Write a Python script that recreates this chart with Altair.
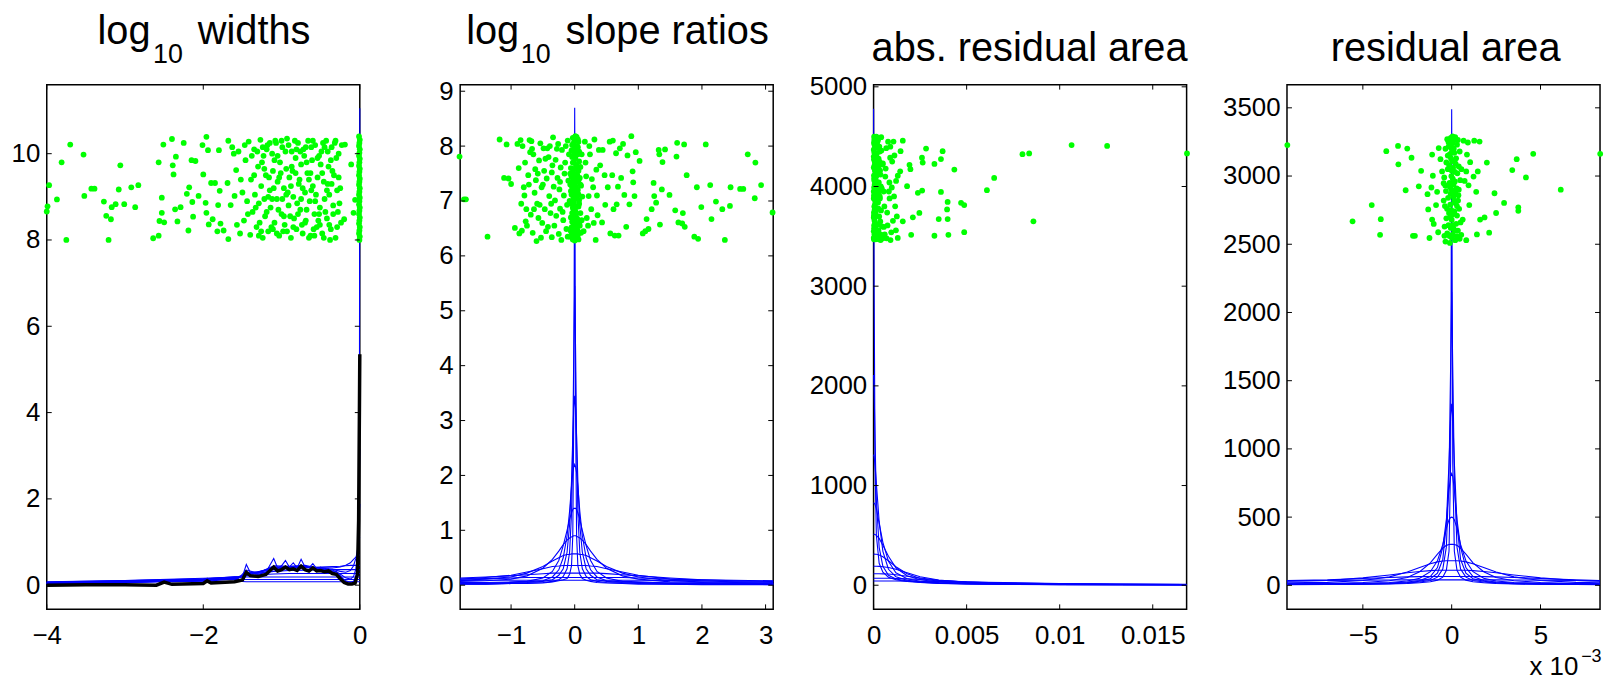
import altair as alt
import pandas as pd

FONT = "Liberation Sans"
W, H = 315, 528
TICK = 5
BLUE = "#0000ff"
GREEN = "#00ff00"

# ---------------- panel 1 : log10 widths ----------------
P1_XDOM = [-4, 0]
P1_YDOM = [-0.56, 11.6]
P1_XTICKS = [-4, -2, 0]
P1_YTICKS = [0, 2, 4, 6, 8, 10]
P1_FINE_X = [-4, -3.5, -3, -2.6, -2.5, -2.4, -2.0, -1.95, -1.9, -1.6,
             -1.5, -1.45, -1.4, -1.3, -1.2, -1.1, -1.05, -1.0, -0.95, -0.9,
             -0.85, -0.8, -0.75, -0.7, -0.65, -0.6, -0.55, -0.5, -0.45, -0.4,
             -0.35, -0.3, -0.25, -0.2, -0.15, -0.1, -0.06, -0.03, -0.015, -0.005, 0]
P1_NARROW_Y = [0.03, 0.05, 0.06, 0.08, 0.11, 0.08, 0.10, 0.16, 0.10, 0.15,
               0.20, 0.48, 0.30, 0.25, 0.30, 0.62, 0.40, 0.45, 0.57, 0.42,
               0.52, 0.40, 0.60, 0.42, 0.40, 0.50, 0.38, 0.42, 0.35, 0.38,
               0.30, 0.32, 0.22, 0.10, 0.05, 0.04, 0.05, 0.20, 1.0, 4.0, 11.05]
P1_BLACK_Y = [0.00, 0.01, 0.01, 0.00, 0.07, 0.02, 0.04, 0.10, 0.05, 0.08,
              0.12, 0.30, 0.22, 0.20, 0.25, 0.42, 0.33, 0.36, 0.42, 0.36,
              0.38, 0.34, 0.44, 0.36, 0.33, 0.40, 0.33, 0.34, 0.31, 0.33,
              0.27, 0.25, 0.15, 0.06, 0.03, 0.03, 0.05, 0.25, 1.5, 4.0, 5.35]
P1_GRID = [-4, -3, -2, -1.55, -1.45, -1.3, -1.1, -0.9, -0.7, -0.5,
           -0.35, -0.25, -0.18, -0.12, -0.08, -0.05, -0.03, -0.015, -0.005, 0]
P1_CURVES = [
    [0.04, 0.07, 0.11, 0.16, 0.35, 0.28, 0.45, 0.44, 0.46, 0.38, 0.33, 0.20, 0.10, 0.07, 0.09, 0.20, 0.50, 1.30, 2.60, 3.15],
    [0.04, 0.07, 0.11, 0.17, 0.30, 0.30, 0.42, 0.43, 0.44, 0.39, 0.35, 0.26, 0.17, 0.14, 0.20, 0.38, 0.70, 1.25, 1.70, 1.88],
    [0.04, 0.07, 0.12, 0.17, 0.27, 0.31, 0.40, 0.42, 0.42, 0.40, 0.37, 0.32, 0.30, 0.34, 0.45, 0.62, 0.82, 1.00, 1.10, 1.12],
    [0.05, 0.08, 0.12, 0.18, 0.25, 0.31, 0.38, 0.41, 0.41, 0.41, 0.40, 0.42, 0.46, 0.52, 0.60, 0.65, 0.68, 0.70, 0.70, 0.70],
    [0.05, 0.08, 0.13, 0.19, 0.24, 0.30, 0.36, 0.39, 0.41, 0.42, 0.43, 0.44, 0.45, 0.46, 0.46, 0.46, 0.46, 0.46, 0.46, 0.46],
    [0.05, 0.09, 0.14, 0.20, 0.23, 0.28, 0.32, 0.34, 0.35, 0.36, 0.36, 0.36, 0.36, 0.36, 0.36, 0.36, 0.36, 0.36, 0.36, 0.36],
    [0.06, 0.10, 0.15, 0.20, 0.22, 0.24, 0.26, 0.27, 0.27, 0.27, 0.27, 0.27, 0.27, 0.27, 0.27, 0.27, 0.27, 0.27, 0.27, 0.27],
    [0.07, 0.11, 0.16, 0.18, 0.19, 0.19, 0.19, 0.19, 0.19, 0.19, 0.19, 0.19, 0.19, 0.19, 0.19, 0.19, 0.19, 0.19, 0.19, 0.19],
    [0.08, 0.11, 0.13, 0.13, 0.13, 0.13, 0.13, 0.13, 0.13, 0.13, 0.13, 0.13, 0.13, 0.13, 0.13, 0.13, 0.13, 0.13, 0.13, 0.13],
    [0.05, 0.07, 0.09, 0.09, 0.08, 0.08, 0.08, 0.08, 0.08, 0.08, 0.08, 0.08, 0.08, 0.08, 0.08, 0.08, 0.08, 0.08, 0.08, 0.08],
]
P1_POINTS = [
    (-4.00, 8.66), (-3.99, 8.78), (-3.97, 9.27), (-3.87, 8.94), (-3.81, 9.80), (-3.75, 8.00), (-3.70, 10.21),
    (-3.53, 9.98), (-3.52, 9.02), (-3.43, 9.19), (-3.39, 9.19), (-3.27, 8.89), (-3.24, 8.56), (-3.21, 8.00),
    (-3.18, 8.48), (-3.17, 8.76), (-3.12, 8.83), (-3.08, 9.17), (-3.06, 9.73), (-3.01, 8.83), (-2.92, 9.22),
    (-2.87, 8.76), (-2.83, 9.27),
    (-2.64, 8.04), (-2.57, 9.80), (-2.57, 8.10), (-2.56, 8.44), (-2.53, 8.98), (-2.53, 8.63), (-2.51, 10.21),
    (-2.50, 8.41), (-2.40, 10.34), (-2.39, 9.73), (-2.38, 9.52), (-2.36, 8.71), (-2.35, 9.93), (-2.33, 8.43),
    (-2.29, 8.76), (-2.25, 10.25), (-2.21, 9.07), (-2.19, 8.22), (-2.18, 9.22), (-2.15, 9.85), (-2.14, 8.88),
    (-2.13, 8.54), (-2.10, 9.83), (-2.06, 9.02), (-2.01, 10.20), (-2.00, 9.52), (-1.97, 8.86), (-1.96, 10.39),
    (-1.96, 8.63), (-1.94, 10.08), (-1.93, 8.36), (-1.90, 9.32), (-1.88, 8.48), (-1.85, 9.32), (-1.82, 8.20),
    (-1.81, 8.81), (-1.80, 10.08), (-1.79, 9.14), (-1.78, 8.38), (-1.74, 8.22), (-1.69, 9.32), (-1.68, 10.30),
    (-1.68, 8.02), (-1.65, 8.81), (-1.63, 10.15), (-1.61, 10.00), (-1.60, 9.02),
    (-1.58, 9.62), (-1.55, 10.05), (-1.53, 8.15), (-1.50, 9.10), (-1.48, 8.45), (-1.46, 9.85), (-1.44, 8.90),
    (-1.42, 10.28), (-1.40, 8.12), (-1.39, 9.40), (-1.37, 8.65), (-1.35, 10.10), (-1.34, 9.05), (-1.32, 8.30),
    (-1.30, 9.70), (-1.29, 8.85), (-1.27, 10.32), (-1.26, 9.25), (-1.24, 8.05), (-1.23, 9.95), (-1.21, 8.55),
    (-1.20, 9.50), (-1.18, 10.20), (-1.17, 8.20), (-1.15, 9.15), (-1.14, 8.75), (-1.12, 10.00), (-1.11, 9.60),
    (-1.09, 8.40), (-1.08, 10.30), (-1.06, 8.95), (-1.05, 9.35), (-1.03, 8.10), (-1.02, 9.80), (-1.00, 8.60),
    (-0.99, 10.15), (-0.97, 9.20), (-0.96, 8.35), (-0.94, 9.65), (-0.93, 10.35), (-0.91, 8.80), (-0.90, 9.45),
    (-0.88, 8.05), (-0.87, 10.05), (-0.85, 9.00), (-0.84, 8.50), (-0.82, 9.90), (-0.81, 8.25), (-0.79, 10.25),
    (-0.78, 9.30), (-0.76, 8.70), (-0.75, 9.75), (-0.73, 8.15), (-0.72, 10.10), (-0.70, 9.10), (-0.69, 8.45),
    (-0.67, 9.55), (-0.66, 10.30), (-0.64, 8.90), (-0.63, 8.10), (-0.61, 9.85), (-0.60, 9.25), (-0.58, 8.60),
    (-0.57, 10.20), (-0.55, 8.30), (-0.54, 9.45), (-0.52, 9.95), (-0.51, 8.75), (-0.49, 10.05), (-0.48, 8.15),
    (-0.46, 9.35), (-0.45, 8.95), (-0.43, 10.30), (-0.42, 8.50), (-0.40, 9.70), (-0.39, 9.05), (-0.37, 8.25),
    (-0.36, 10.15), (-0.34, 8.80), (-0.33, 9.50), (-0.31, 8.05), (-0.30, 9.90), (-0.28, 8.65), (-0.27, 10.00),
    (-0.25, 9.20), (-0.24, 8.40),
    (-1.28, 8.40), (-1.25, 9.80), (-1.22, 8.95), (-1.19, 10.10), (-1.16, 9.45), (-1.13, 8.30), (-1.10, 9.20),
    (-1.07, 10.25), (-1.04, 8.70), (-1.01, 9.55), (-0.98, 8.20), (-0.95, 10.05), (-0.92, 9.10), (-0.89, 8.55),
    (-0.86, 9.60), (-0.83, 10.30), (-0.80, 8.85), (-0.77, 9.40), (-0.74, 8.35), (-0.71, 9.95), (-0.68, 8.70),
    (-0.65, 9.40), (-0.62, 10.15), (-0.59, 8.25), (-0.56, 9.05), (-0.53, 8.45), (-0.50, 9.75), (-0.47, 10.25),
    (-0.44, 8.65), (-0.41, 9.30), (-0.38, 8.00), (-0.35, 9.60), (-0.32, 10.25), (-0.29, 9.15), (-0.26, 8.85),
    (-0.23, 10.20),
    (-1.57, 8.35), (-1.52, 9.40), (-1.47, 10.20), (-1.43, 8.60), (-1.38, 9.95), (-1.33, 8.75), (-1.31, 10.05),
    (-1.26, 8.20), (-1.22, 9.65), (-1.19, 8.65), (-1.15, 10.25), (-1.12, 8.95), (-1.09, 9.85), (-1.06, 8.15),
    (-1.03, 9.45), (-1.00, 10.30), (-0.97, 8.55), (-0.94, 9.05), (-0.91, 10.20), (-0.88, 9.25), (-0.85, 8.30),
    (-0.82, 9.55), (-0.79, 8.60), (-0.76, 10.05), (-0.73, 9.20), (-0.70, 8.40), (-0.68, 9.80), (-0.65, 8.05),
    (-0.62, 9.15), (-0.60, 10.30), (-0.57, 8.90), (-0.54, 9.90), (-0.51, 8.35), (-0.48, 9.55), (-0.45, 10.15),
    (-0.42, 9.15), (-0.39, 8.35), (-0.37, 9.85), (-0.34, 8.60), (-0.31, 10.30), (-0.29, 8.30), (-0.27, 9.45),
    (-1.35, 9.50), (-1.29, 8.10), (-1.24, 10.15), (-1.17, 9.00), (-1.11, 8.25), (-1.05, 9.95), (-0.99, 8.95),
    (-0.93, 8.20), (-0.87, 9.70), (-0.81, 10.10), (-0.75, 8.95), (-0.69, 10.15), (-0.63, 9.55), (-0.58, 8.10),
    (-0.52, 8.60), (-0.46, 8.05), (-0.41, 10.05), (-0.36, 9.30),
    (-0.19, 10.21), (-0.11, 9.75), (-0.08, 8.63), (-0.06, 8.93), (-0.20, 8.48),
    (-0.005, 8.00), (0.0, 8.08), (-0.01, 8.15), (-0.005, 8.22), (0.0, 8.30), (-0.01, 8.38), (-0.005, 8.45),
    (0.0, 8.52), (-0.01, 8.60), (-0.005, 8.68), (0.0, 8.75), (-0.01, 8.82), (-0.005, 8.90), (0.0, 8.98),
    (-0.01, 9.05), (-0.005, 9.12), (0.0, 9.20), (-0.01, 9.28), (-0.005, 9.35), (0.0, 9.42), (-0.01, 9.50),
    (-0.005, 9.58), (0.0, 9.65), (-0.01, 9.72), (-0.005, 9.80), (0.0, 9.88), (-0.01, 9.95), (-0.005, 10.02),
    (0.0, 10.10), (-0.01, 10.18), (-0.005, 10.25), (0.0, 10.32), (-0.01, 10.40),
]

# ---------------- panel 2 : log10 slope ratios ----------------
P2_XDOM = [-1.8, 3.12]
P2_YDOM = [-0.44, 9.12]
P2_XTICKS = [-1, 0, 1, 2, 3]
P2_YTICKS = [0, 1, 2, 3, 4, 5, 6, 7, 8, 9]
P2_GRID = [-1.8, -1.4, -1.0, -0.75, -0.5, -0.35, -0.25, -0.18, -0.12, -0.08, -0.05, -0.03, -0.015,
           0,
           0.015, 0.03, 0.05, 0.08, 0.12, 0.18, 0.25, 0.35, 0.5, 0.75, 1.0, 1.5, 2.0, 2.5, 3.12]
P2_CURVES = [
    [0.02, 0.02, 0.03, 0.03, 0.04, 0.06, 0.08, 0.10, 0.12, 0.20, 0.35, 0.90, 3.00, 8.70,
     3.00, 0.90, 0.35, 0.20, 0.12, 0.09, 0.07, 0.05, 0.04, 0.03, 0.02, 0.02, 0.01, 0.01, 0.01],
    [0.02, 0.02, 0.03, 0.04, 0.05, 0.07, 0.10, 0.16, 0.30, 0.60, 1.30, 2.60, 4.20, 5.45,
     4.20, 2.60, 1.30, 0.60, 0.30, 0.16, 0.10, 0.07, 0.05, 0.04, 0.03, 0.02, 0.02, 0.02, 0.01],
    [0.03, 0.03, 0.04, 0.05, 0.07, 0.10, 0.18, 0.30, 0.60, 1.10, 1.90, 2.70, 3.20, 3.45,
     3.20, 2.70, 1.90, 1.10, 0.60, 0.30, 0.18, 0.10, 0.07, 0.05, 0.04, 0.03, 0.02, 0.02, 0.02],
    [0.04, 0.04, 0.05, 0.06, 0.08, 0.15, 0.28, 0.50, 0.90, 1.35, 1.80, 2.05, 2.15, 2.20,
     2.15, 2.05, 1.80, 1.35, 0.90, 0.50, 0.28, 0.15, 0.08, 0.06, 0.05, 0.04, 0.03, 0.02, 0.02],
    [0.05, 0.05, 0.06, 0.07, 0.13, 0.25, 0.45, 0.72, 1.00, 1.20, 1.32, 1.38, 1.40, 1.40,
     1.40, 1.38, 1.32, 1.20, 1.00, 0.72, 0.45, 0.25, 0.13, 0.07, 0.06, 0.04, 0.03, 0.03, 0.03],
    [0.07, 0.08, 0.11, 0.17, 0.31, 0.47, 0.62, 0.74, 0.82, 0.86, 0.88, 0.89, 0.90, 0.90,
     0.90, 0.89, 0.88, 0.86, 0.82, 0.74, 0.62, 0.47, 0.31, 0.17, 0.11, 0.06, 0.05, 0.04, 0.03],
    [0.09, 0.11, 0.15, 0.22, 0.34, 0.44, 0.50, 0.54, 0.56, 0.56, 0.57, 0.57, 0.57, 0.57,
     0.57, 0.57, 0.57, 0.56, 0.56, 0.54, 0.50, 0.44, 0.34, 0.22, 0.15, 0.08, 0.06, 0.05, 0.04],
    [0.11, 0.14, 0.18, 0.24, 0.30, 0.34, 0.35, 0.36, 0.36, 0.36, 0.36, 0.36, 0.36, 0.36,
     0.36, 0.36, 0.36, 0.36, 0.36, 0.36, 0.35, 0.34, 0.30, 0.24, 0.18, 0.11, 0.08, 0.06, 0.05],
    [0.13, 0.15, 0.17, 0.19, 0.21, 0.22, 0.22, 0.22, 0.22, 0.22, 0.22, 0.22, 0.22, 0.22,
     0.22, 0.22, 0.22, 0.22, 0.22, 0.22, 0.22, 0.22, 0.21, 0.19, 0.17, 0.13, 0.10, 0.08, 0.07],
    [0.11, 0.12, 0.13, 0.14, 0.14, 0.14, 0.14, 0.14, 0.14, 0.14, 0.14, 0.14, 0.14, 0.14,
     0.14, 0.14, 0.14, 0.14, 0.14, 0.14, 0.14, 0.14, 0.14, 0.14, 0.13, 0.11, 0.10, 0.09, 0.08],
    [0.085, 0.09, 0.09, 0.09, 0.09, 0.09, 0.09, 0.09, 0.09, 0.09, 0.09, 0.09, 0.09, 0.09,
     0.09, 0.09, 0.09, 0.09, 0.09, 0.09, 0.09, 0.09, 0.09, 0.09, 0.09, 0.085, 0.08, 0.075, 0.07],
]
P2_POINTS = [
    (-1.81, 7.81), (-1.74, 7.03), (-1.71, 7.03), (-1.37, 6.35), (-1.18, 8.12), (-1.11, 7.42), (-1.07, 8.03),
    (-1.04, 7.41), (-1.00, 7.31), (-0.94, 6.51), (-0.90, 8.04), (-0.87, 6.41), (-0.85, 8.11), (-0.83, 6.46),
    (-0.82, 8.00), (-0.80, 7.25), (-0.78, 7.70), (-0.77, 6.63), (-0.76, 6.85), (-0.73, 7.47), (-0.71, 8.11),
    (-0.70, 7.89), (-0.68, 8.09), (-0.66, 6.42), (-0.65, 7.85), (-0.64, 6.85), (-0.62, 7.58), (-0.61, 7.38),
    (-0.60, 6.27), (-0.57, 6.69), (-0.56, 7.74), (-0.55, 6.93), (-0.53, 6.33), (-0.52, 7.25), (-0.49, 7.96),
    (-0.48, 7.55), (-0.47, 6.85), (-0.46, 7.77), (-0.44, 7.41), (-0.43, 7.96), (-0.42, 6.53), (-0.40, 7.09),
    (-0.39, 8.00), (-0.38, 6.78), (-0.36, 7.52), (-0.36, 6.34), (-0.34, 8.16), (-0.33, 7.26), (-0.31, 7.01),
    (-0.30, 7.75), (-0.29, 6.73), (-0.27, 7.42), (-0.26, 8.04), (-0.24, 7.21), (-0.23, 6.86), (-0.22, 7.61),
    (-0.21, 6.29), (-0.20, 7.93), (-0.18, 6.65), (-0.17, 7.10), (-0.16, 7.50), (-0.14, 8.00), (-0.13, 6.49),
    (-0.12, 6.93), (-0.10, 7.37), (-0.09, 7.85),
    (-0.88, 7.60), (-0.84, 6.95), (-0.79, 7.10), (-0.75, 6.55), (-0.72, 7.30), (-0.69, 6.75), (-0.67, 7.95),
    (-0.63, 7.15), (-0.59, 6.95), (-0.58, 7.50), (-0.54, 8.05), (-0.51, 6.60), (-0.50, 7.30), (-0.45, 6.45),
    (-0.41, 7.80), (-0.37, 6.95), (-0.35, 7.65), (-0.32, 6.55), (-0.28, 7.95), (-0.25, 6.40), (-0.23, 7.35),
    (-0.19, 6.80), (-0.15, 7.70), (-0.11, 6.35), (-0.11, 8.10), (0.14, 6.45), (0.17, 7.70), (0.21, 6.55),
    (0.23, 8.00), (0.27, 7.40), (0.30, 6.60), (0.35, 7.10),
    (-0.07, 6.35), (-0.05, 6.52), (-0.03, 6.30), (-0.01, 6.45), (0.01, 6.33), (0.03, 6.48), (0.05, 6.38),
    (0.08, 6.55), (0.10, 6.42), (-0.06, 6.70), (-0.04, 6.62), (-0.02, 6.85), (0.00, 6.60), (0.02, 6.75),
    (0.04, 6.68), (0.06, 6.90), (0.09, 6.78), (0.11, 6.65), (-0.08, 7.00), (-0.05, 6.95), (-0.03, 7.10),
    (-0.01, 6.98), (0.01, 7.15), (0.03, 7.05), (0.05, 7.20), (0.07, 7.02), (0.12, 7.08), (-0.07, 7.30),
    (-0.04, 7.25), (-0.02, 7.40), (0.00, 7.32), (0.02, 7.48), (0.04, 7.35), (0.06, 7.55), (0.08, 7.42),
    (0.10, 7.28), (-0.06, 7.60), (-0.03, 7.70), (-0.01, 7.58), (0.01, 7.78), (0.03, 7.65), (0.05, 7.85),
    (0.07, 7.72), (0.09, 7.62), (-0.05, 7.92), (-0.02, 8.05), (0.00, 7.95), (0.02, 8.12), (0.04, 8.00),
    (0.06, 8.08), (-0.03, 8.15), (0.01, 8.18), (0.03, 8.17), (-0.04, 6.40), (0.00, 6.28), (0.06, 6.30),
    (-0.02, 6.55), (0.02, 6.90), (-0.06, 7.18), (0.04, 7.60), (-0.01, 7.85), (0.05, 6.45), (-0.03, 6.88),
    (0.01, 6.50), (0.07, 6.95), (-0.05, 7.45), (0.03, 7.95), (-0.02, 7.12), (0.09, 7.30), (0.00, 6.75),
    (0.02, 7.25), (-0.04, 7.80), (0.06, 7.38), (0.08, 6.62), (-0.01, 7.22), (0.11, 7.85), (0.04, 6.35),
    (-0.07, 7.50), (0.01, 7.42), (0.05, 8.12), (-0.02, 6.38), (0.03, 7.35), (0.00, 8.10), (0.07, 7.90),
    (-0.03, 7.52), (0.02, 6.58),
    (-0.06, 6.45), (0.00, 6.40), (0.04, 6.52), (-0.04, 6.78), (0.01, 6.82), (0.05, 6.62), (-0.02, 7.02),
    (0.03, 7.20), (-0.05, 7.12), (0.00, 7.45), (0.04, 7.48), (-0.03, 7.35), (0.02, 7.62), (-0.01, 7.70),
    (0.05, 7.98), (-0.04, 8.02), (0.01, 7.90), (0.03, 6.40), (-0.01, 6.68), (0.06, 7.12),
    (0.16, 8.08), (0.18, 7.45), (0.19, 6.69), (0.22, 7.09), (0.24, 7.85), (0.26, 6.85), (0.29, 7.25),
    (0.31, 8.12), (0.33, 6.29), (0.34, 7.57), (0.36, 6.74), (0.38, 7.93), (0.40, 7.65), (0.43, 6.61),
    (0.44, 7.93), (0.47, 7.47), (0.48, 6.93), (0.52, 7.25), (0.55, 8.08), (0.56, 6.41), (0.59, 7.47),
    (0.60, 8.10), (0.61, 6.85), (0.63, 6.37), (0.65, 7.87), (0.66, 6.94), (0.68, 7.26), (0.69, 6.37),
    (0.71, 7.96), (0.73, 7.42), (0.76, 8.04), (0.78, 7.11), (0.81, 6.53), (0.83, 7.83), (0.86, 6.94),
    (0.89, 8.18), (0.91, 7.54), (0.92, 7.34), (0.94, 7.09), (0.96, 7.89), (1.02, 7.73), (1.07, 6.41),
    (1.11, 6.45), (1.13, 6.67), (1.16, 6.49), (1.21, 6.85), (1.24, 7.33), (1.25, 7.09), (1.28, 6.97),
    (1.32, 7.93), (1.33, 7.85), (1.34, 6.57), (1.37, 7.21), (1.38, 7.71), (1.42, 7.94), (1.49, 7.11),
    (1.58, 6.83), (1.60, 7.81), (1.61, 8.06), (1.63, 6.61), (1.69, 6.59), (1.70, 6.78), (1.72, 8.03),
    (1.73, 6.53), (1.76, 7.47), (1.88, 6.35), (1.92, 7.25), (1.94, 6.31), (1.99, 6.89), (2.06, 8.03),
    (2.13, 7.29), (2.15, 6.67), (2.22, 6.99), (2.32, 6.85), (2.36, 6.29), (2.45, 7.25), (2.44, 6.91),
    (2.60, 7.22), (2.65, 7.22), (2.72, 7.85), (2.83, 7.05), (2.84, 7.70), (2.93, 7.29), (3.11, 6.79),
]

# ---------------- panel 3 : abs. residual area ----------------
P3_XDOM = [0, 0.01682]
P3_YDOM = [-242, 5022]
P3_XTICKS = [0, 0.005, 0.01, 0.015]
P3_YTICKS = [0, 1000, 2000, 3000, 4000, 5000]
P3_GRID = [0, 0.00003, 0.00008, 0.00015, 0.0003, 0.0005, 0.0008, 0.0012,
           0.0018, 0.0025, 0.0035, 0.005, 0.007, 0.01, 0.013, 0.0168]
P3_CURVES = [
    [4780, 3000, 1200, 500, 220, 130, 80, 55, 38, 27, 19, 13, 9, 6, 4, 3],
    [2110, 1950, 1450, 850, 380, 190, 100, 62, 42, 30, 21, 14, 10, 6, 5, 4],
    [1310, 1290, 1200, 1020, 640, 340, 160, 85, 50, 34, 23, 15, 11, 7, 5, 4],
    [826, 824, 810, 770, 620, 430, 240, 125, 65, 40, 26, 17, 12, 8, 6, 5],
    [510, 510, 508, 500, 470, 400, 290, 175, 95, 55, 32, 19, 13, 9, 7, 5],
    [312, 312, 311, 310, 303, 285, 245, 185, 115, 68, 40, 23, 15, 10, 7, 5],
    [190, 190, 190, 190, 189, 186, 178, 160, 125, 85, 52, 29, 18, 11, 8, 6],
    [115, 115, 115, 115, 115, 114, 112, 105, 90, 72, 50, 31, 19, 12, 9, 7],
    [70, 70, 70, 70, 70, 70, 70, 68, 64, 58, 48, 35, 23, 15, 11, 8],
    [42, 42, 42, 42, 42, 42, 42, 42, 41, 40, 38, 33, 26, 18, 13, 10],
]
P3_POINTS = [
    (0.00002, 3470), (0.00005, 3520), (0.00003, 3580), (0.00008, 3630), (0.00001, 3690), (0.00012, 3750),
    (0.00004, 3800), (0.00009, 3860), (0.00002, 3910), (0.00015, 3970), (0.00006, 4020), (0.00003, 4080),
    (0.00011, 4130), (0.00001, 4190), (0.00007, 4240), (0.00018, 4290), (0.00004, 4340), (0.00010, 4390),
    (0.00002, 4440), (0.00013, 4490), (0.00022, 3490), (0.00026, 3560), (0.00019, 3620), (0.00030, 3700),
    (0.00016, 3780), (0.00024, 3840), (0.00033, 3900), (0.00020, 3960), (0.00028, 4040), (0.00014, 4100),
    (0.00035, 4160), (0.00021, 4220), (0.00027, 4280), (0.00017, 4330), (0.00031, 4400), (0.00023, 4460),
    (0.00038, 3520), (0.00036, 3650), (0.00040, 3760), (0.00034, 3880), (0.00039, 4000), (0.00037, 4120),
    (0.00032, 4250), (0.00042, 4360), (0.00006, 3500), (0.00001, 3550), (0.00005, 3660), (0.00002, 3740),
    (0.00008, 3820), (0.00001, 3950), (0.00004, 4060), (0.00007, 4160), (0.00001, 4300), (0.00005, 4420),
    (0.00003, 4500), (0.00014, 3540), (0.00010, 3600), (0.00013, 3710), (0.00009, 3930), (0.00016, 4050),
    (0.00012, 4270), (0.00008, 4470), (0.00025, 4480), (0.00029, 3470), (0.00045, 3600), (0.00048, 4220),
    (0.00044, 3980), (0.00050, 3480),
    (0.00001, 3485), (0.00003, 3610), (0.00002, 3710), (0.00006, 3770), (0.00001, 3880), (0.00003, 3990),
    (0.00002, 4110), (0.00005, 4210), (0.00002, 4270), (0.00001, 4370), (0.00004, 4470), (0.00011, 3470),
    (0.00018, 3560), (0.00007, 3700), (0.00020, 3890), (0.00011, 4010), (0.00024, 4140), (0.00009, 4320),
    (0.00019, 4430), (0.00015, 4500), (0.00028, 3620), (0.00025, 3780), (0.00030, 3950), (0.00026, 4190),
    (0.00033, 4350), (0.00012, 3530), (0.00006, 3900), (0.00017, 4180), (0.00022, 4390), (0.00035, 3480),
    (0.00060, 3520), (0.00075, 3610), (0.00058, 3800), (0.00082, 3950), (0.00065, 4180), (0.00090, 4400),
    (0.00078, 4450), (0.00054, 3950), (0.00095, 3540), (0.00070, 3480), (0.00110, 3900), (0.00085, 4040),
    (0.00100, 4250), (0.00120, 3560), (0.00125, 3700),
    (0.00107, 4451), (0.00157, 4460), (0.00145, 4354), (0.00112, 4311), (0.00089, 4289), (0.00260, 4289),
    (0.00282, 4381), (0.00264, 4240), (0.00371, 4354), (0.00362, 4275), (0.00327, 4227), (0.00193, 4218),
    (0.00198, 4174), (0.00143, 4152), (0.00130, 4108), (0.00434, 4170), (0.00180, 4003), (0.00261, 3959),
    (0.00238, 3937), (0.00362, 3946), (0.00648, 4086), (0.00609, 3963), (0.00398, 3845), (0.00395, 3770),
    (0.00470, 3836), (0.00487, 3814), (0.00246, 3735), (0.00211, 3691), (0.00157, 3651), (0.00104, 3656),
    (0.00350, 3673), (0.00398, 3673), (0.00327, 3506), (0.00402, 3515), (0.00487, 3542), (0.00202, 3515),
    (0.00130, 3484), (0.00091, 3463), (0.00800, 4324), (0.00836, 4332), (0.01064, 4416), (0.01255, 4407),
    (0.00859, 3651), (0.01684, 4332), (0.00038, 3463), (0.00055, 3594), (0.00073, 3739), (0.00086, 3880),
    (0.00098, 3990), (0.00116, 3801), (0.00121, 4056), (0.00063, 4100), (0.00050, 4231), (0.00068, 4385),
    (0.00041, 4495),
]

# ---------------- panel 4 : residual area (x in units of 1e-3) ----------------
P4_XDOM = [-9.27, 8.35]
P4_YDOM = [-176, 3670]
P4_XTICKS = [-5, 0, 5]
P4_YTICKS = [0, 500, 1000, 1500, 2000, 2500, 3000, 3500]
P4_GRID = [-9.27, -7, -5, -3.5, -2.5, -1.8, -1.2, -0.8, -0.5, -0.3, -0.15, -0.06,
           0,
           0.06, 0.15, 0.3, 0.5, 0.8, 1.2, 1.8, 2.5, 3.5, 5, 7, 8.35]
P4_CURVES = [
    [5, 6, 8, 10, 14, 19, 26, 38, 60, 110, 250, 900, 3490, 900, 250, 110, 60, 38, 26, 19, 14, 10, 8, 6, 5],
    [6, 7, 9, 12, 17, 24, 36, 60, 120, 280, 800, 1600, 2150, 1600, 800, 280, 120, 60, 36, 24, 17, 12, 9, 7, 6],
    [7, 8, 11, 14, 20, 30, 48, 90, 190, 450, 900, 1230, 1330, 1230, 900, 450, 190, 90, 48, 30, 20, 14, 11, 8, 7],
    [8, 9, 12, 17, 24, 36, 65, 130, 280, 480, 700, 800, 820, 800, 700, 480, 280, 130, 65, 36, 24, 17, 12, 9, 8],
    [9, 11, 15, 21, 32, 52, 100, 180, 300, 420, 480, 497, 500, 497, 480, 420, 300, 180, 100, 52, 32, 21, 15, 11, 9],
    [12, 14, 21, 34, 58, 100, 165, 228, 272, 293, 299, 300, 300, 300, 299, 293, 272, 228, 165, 100, 58, 34, 21, 14, 12],
    [18, 22, 36, 62, 98, 130, 158, 172, 178, 180, 180, 180, 180, 180, 180, 180, 178, 172, 158, 130, 98, 62, 36, 22, 18],
    [30, 36, 55, 76, 92, 102, 108, 110, 110, 110, 110, 110, 110, 110, 110, 110, 110, 110, 108, 102, 92, 76, 55, 36, 30],
    [36, 40, 50, 58, 62, 64, 65, 65, 65, 65, 65, 65, 65, 65, 65, 65, 65, 65, 65, 64, 62, 58, 50, 40, 36],
    [33, 35, 38, 39, 40, 40, 40, 40, 40, 40, 40, 40, 40, 40, 40, 40, 40, 40, 40, 40, 40, 39, 38, 35, 33],
]
P4_POINTS = [
    (-9.25, 3227), (8.36, 3163), (-5.58, 2668), (-4.50, 2787), (-3.99, 2684), (-4.03, 2569), (-3.68, 3182),
    (-3.02, 3221), (-3.00, 3086), (-2.50, 3201), (-2.26, 3134), (-2.59, 2896), (-2.18, 2562), (-2.07, 2562),
    (-1.72, 3038), (-1.85, 2925), (-1.36, 2867), (-1.32, 2755), (-1.25, 2546), (-1.10, 3157), (-1.06, 3002),
    (-1.14, 2916), (-1.10, 2681), (-1.01, 2649), (-0.88, 2787), (-0.82, 2884), (-0.76, 2588), (-0.73, 3205),
    (-0.63, 3124), (-0.54, 3034), (-0.45, 2948), (-0.41, 2562),
    (0.67, 3259), (0.91, 3246), (1.27, 3259), (1.57, 3253), (0.86, 3157), (1.04, 3102), (0.82, 3034),
    (0.73, 2964), (0.95, 2932), (1.23, 2996), (1.47, 3034), (1.38, 2884), (0.99, 2787), (0.62, 2681),
    (0.54, 2569), (0.82, 2530), (1.42, 2572), (1.60, 2681), (1.85, 2697), (2.11, 2585), (2.41, 2874),
    (2.50, 2729), (1.98, 3099), (2.95, 2803), (3.41, 3044), (3.66, 3124), (3.75, 2771), (3.75, 2745),
    (4.18, 2990), (4.59, 3163), (6.14, 2900),
    (-0.35, 2520), (-0.10, 2510), (0.20, 2530), (0.45, 2540), (-0.25, 2580), (0.05, 2570), (0.35, 2600),
    (-0.40, 2630), (-0.05, 2620), (0.25, 2650), (0.50, 2660), (-0.30, 2690), (0.00, 2680), (0.30, 2710),
    (-0.15, 2730), (0.15, 2740), (0.42, 2760), (-0.38, 2780), (-0.08, 2790), (0.22, 2800), (-0.20, 2840),
    (0.10, 2850), (0.38, 2860), (-0.32, 2890), (0.00, 2900), (0.28, 2910), (-0.12, 2950), (0.18, 2960),
    (0.48, 2970), (-0.42, 2990), (-0.02, 3000), (0.32, 3020), (-0.22, 3050), (0.08, 3060), (0.40, 3070),
    (-0.30, 3100), (0.02, 3110), (0.25, 3130), (-0.10, 3160), (0.15, 3170), (0.45, 3180), (-0.35, 3200),
    (-0.05, 3210), (0.30, 3230), (-0.18, 3250), (0.10, 3260), (-0.05, 3280), (0.20, 3285), (0.05, 3290),
    (-0.25, 3270), (0.35, 3265), (0.00, 2550), (0.12, 2610), (-0.18, 2640), (0.28, 2560), (0.06, 2720),
    (-0.26, 2760), (0.36, 2820), (-0.06, 2870), (0.20, 2880), (-0.36, 2930), (0.10, 2940), (0.00, 3040),
    (-0.14, 3080), (0.22, 3090), (0.12, 3200), (-0.22, 3150), (0.40, 2900), (-0.45, 2820), (0.55, 3050),
    (0.02, 3180), (-0.08, 2700), (0.16, 2600), (0.30, 2780),
    (-0.12, 2560), (0.08, 2640), (-0.02, 2750), (0.14, 2820), (-0.10, 2920), (0.06, 2980), (-0.04, 3130),
    (0.18, 3030), (-0.16, 3220), (0.04, 3240),
]

# title pieces: (text, x, y, font size) relative to each plot area
P1_TEXT = [("log", 51, -41, 40), ("10", 107, -22, 27), ("widths", 152, -41, 40)]
P2_TEXT = [("log", 6, -41, 40), ("10", 61, -22, 27), ("slope ratios", 106, -41, 40)]
P3_TEXT = [("abs. residual area", -2, -24, 40)]
P4_TEXT = [("residual area", 44, -24, 40), ("x 10", 244, 594, 26), ("\u22123", 296, 581, 18)]


def curve_frame(grid, curves, start=0):
    rows = []
    for ci, ys in enumerate(curves):
        for x, y in zip(grid, ys):
            rows.append({"x": x, "y": y, "c": start + ci})
    return pd.DataFrame(rows)


def points_frame(points):
    return pd.DataFrame(points, columns=["x", "y"])


def make_panel(curve_df, pts_df, xdom, ydom, xticks, yticks, xfmt, yfmt, texts, black_df=None):
    xs = alt.Scale(domain=xdom, nice=False, zero=False)
    ys = alt.Scale(domain=ydom, nice=False, zero=False)
    common = dict(title=None, grid=False, ticks=False, tickSize=0, domain=False,
                  labelFont=FONT, labelFontSize=26, labelColor="black",
                  labelFlush=False, labelOverlap=False)
    ax = alt.Axis(values=xticks, format=xfmt, labelPadding=13, **common)
    ay = alt.Axis(values=yticks, format=yfmt, labelPadding=7, **common)
    X = alt.X("x:Q", scale=xs, axis=ax)
    Y = alt.Y("y:Q", scale=ys, axis=ay)

    layers = [alt.Chart(curve_df).mark_line(color=BLUE, strokeWidth=1.1)
              .encode(x=X, y=Y, detail="c:N")]
    if black_df is not None:
        layers.append(alt.Chart(black_df).mark_line(color="black", strokeWidth=3.5)
                      .encode(x=X, y=Y))
    layers.append(alt.Chart(pts_df).mark_circle(color=GREEN, size=34, opacity=1)
                  .encode(x=X, y=Y))

    xt = pd.DataFrame({"x": xticks})
    yt = pd.DataFrame({"y": yticks})
    rule = dict(color="black", strokeWidth=1)
    layers += [
        alt.Chart(xt).mark_rule(**rule).encode(x=X, y=alt.value(H - TICK), y2=alt.value(H)),
        alt.Chart(xt).mark_rule(**rule).encode(x=X, y=alt.value(0), y2=alt.value(TICK)),
        alt.Chart(yt).mark_rule(**rule).encode(y=Y, x=alt.value(0), x2=alt.value(TICK)),
        alt.Chart(yt).mark_rule(**rule).encode(y=Y, x=alt.value(W - TICK), x2=alt.value(W)),
    ]
    for txt, px, py, fs in texts:
        layers.append(
            alt.Chart(pd.DataFrame({"t": [txt]}))
            .mark_text(align="left", baseline="alphabetic", font=FONT, fontSize=fs, color="black")
            .encode(text="t:N", x=alt.value(px), y=alt.value(py))
        )
    return alt.layer(*layers).properties(width=W, height=H)


p1_curves = pd.concat([
    curve_frame(P1_FINE_X, [P1_NARROW_Y], 0),
    curve_frame(P1_GRID, P1_CURVES, 1),
])
p1_black = pd.DataFrame({"x": P1_FINE_X, "y": P1_BLACK_Y})

panel1 = make_panel(p1_curves, points_frame(P1_POINTS), P1_XDOM, P1_YDOM, P1_XTICKS, P1_YTICKS,
                    "d", "d", P1_TEXT, black_df=p1_black)
panel2 = make_panel(curve_frame(P2_GRID, P2_CURVES), points_frame(P2_POINTS), P2_XDOM, P2_YDOM,
                    P2_XTICKS, P2_YTICKS, "d", "d", P2_TEXT)
panel3 = make_panel(curve_frame(P3_GRID, P3_CURVES), points_frame(P3_POINTS), P3_XDOM, P3_YDOM,
                    P3_XTICKS, P3_YTICKS, "~g", "d", P3_TEXT)
panel4 = make_panel(curve_frame(P4_GRID, P4_CURVES), points_frame(P4_POINTS), P4_XDOM, P4_YDOM,
                    P4_XTICKS, P4_YTICKS, "d", "d", P4_TEXT)

chart = (
    alt.hconcat(panel1, panel2, panel3, panel4, spacing=101, bounds="flush",
                padding={"left": 2, "top": 1, "right": 0, "bottom": 0},
                background="white")
    .configure_view(stroke="black", strokeWidth=1.5)
)

chart.save("out.html", embed_options={"renderer": "svg", "actions": False})
